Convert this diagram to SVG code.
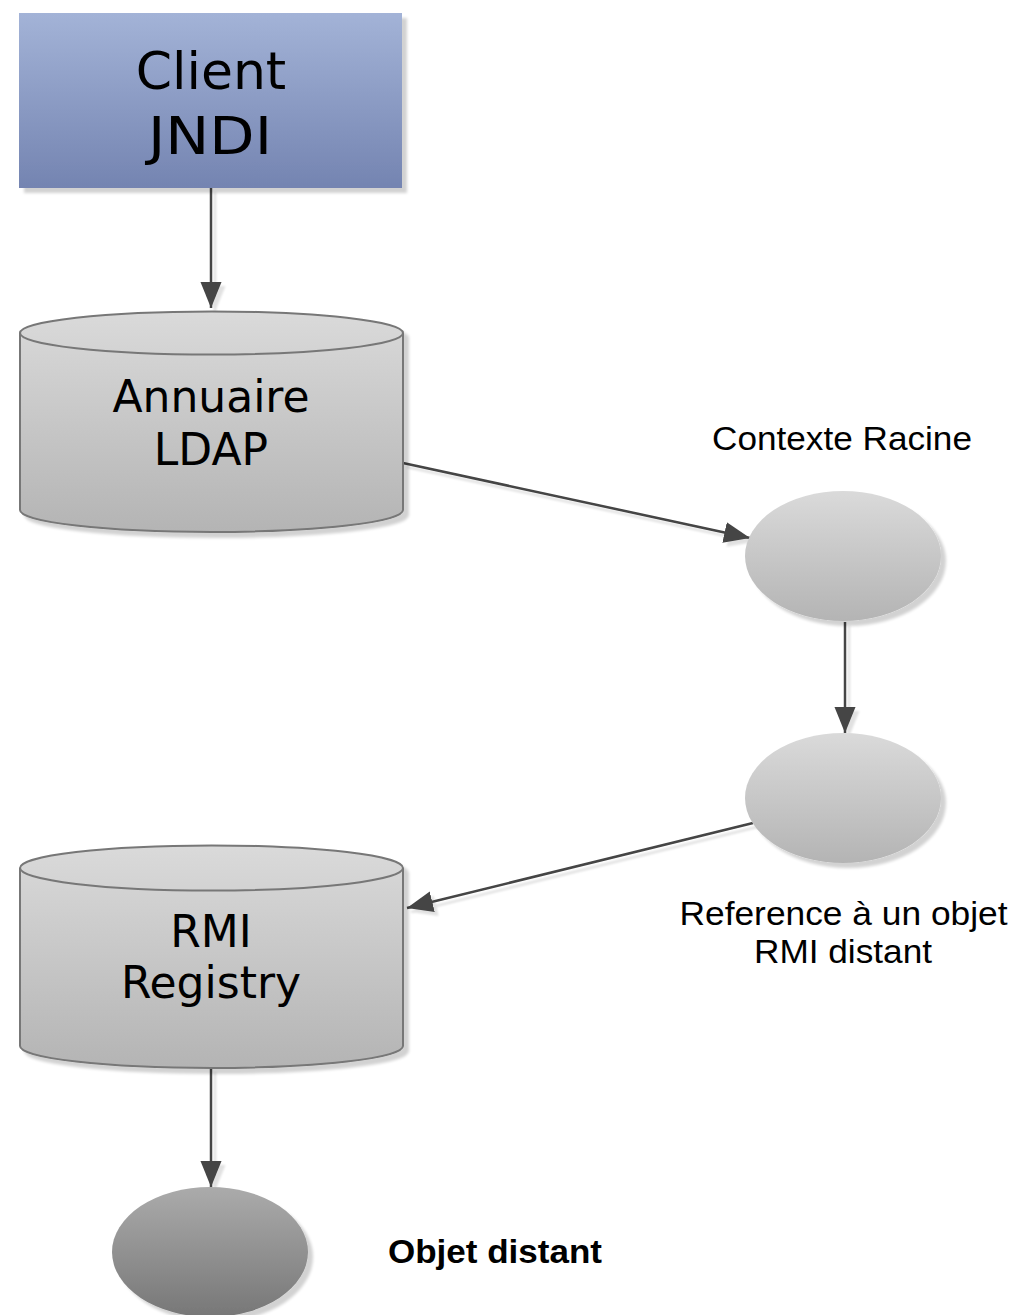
<svg xmlns="http://www.w3.org/2000/svg" width="1014" height="1315" viewBox="0 0 1014 1315">
  <defs>
    <linearGradient id="gBlue" x1="0" y1="0" x2="0" y2="1">
      <stop offset="0" stop-color="#a3b3d7"/>
      <stop offset="1" stop-color="#7484b1"/>
    </linearGradient>
    <linearGradient id="gGrey" x1="0" y1="0" x2="0" y2="1">
      <stop offset="0" stop-color="#dadada"/>
      <stop offset="1" stop-color="#b4b4b4"/>
    </linearGradient>
    <linearGradient id="gDark" x1="0" y1="0" x2="0" y2="1">
      <stop offset="0" stop-color="#ababab"/>
      <stop offset="1" stop-color="#777777"/>
    </linearGradient>
    <filter id="shadow" x="-10%" y="-10%" width="130%" height="130%">
      <feGaussianBlur in="SourceAlpha" stdDeviation="1.5"/>
      <feOffset dx="5" dy="5" result="off"/>
      <feComponentTransfer><feFuncA type="linear" slope="0.18"/></feComponentTransfer>
      <feMerge><feMergeNode/><feMergeNode in="SourceGraphic"/></feMerge>
    </filter>
    <filter id="lineShadow" x="-20%" y="-20%" width="140%" height="140%">
      <feOffset in="SourceAlpha" dx="4" dy="4"/>
      <feGaussianBlur stdDeviation="1"/>
      <feComponentTransfer><feFuncA type="linear" slope="0.12"/></feComponentTransfer>
      <feMerge><feMergeNode/><feMergeNode in="SourceGraphic"/></feMerge>
    </filter>
    <marker id="arrow" markerUnits="userSpaceOnUse" markerWidth="28" markerHeight="22" refX="26" refY="10.5" orient="auto">
      <path d="M0,0 L26,10.5 L0,21 Z" fill="#444444"/>
    </marker>
  </defs>
  <style>
    .conn { stroke: #444444; stroke-width: 2.5; fill: none; marker-end: url(#arrow); }
    .cyl { fill: url(#gGrey); stroke: #777777; stroke-width: 2; }
    .big { font-family: "DejaVu Sans", Verdana, sans-serif; fill: #000; text-anchor: middle; }
    .lbl { font-family: "Liberation Sans", Arial, Helvetica, sans-serif; font-size: 34px; fill: #000; text-anchor: middle; }
  </style>

  <!-- connectors -->
  <g id="connectors" filter="url(#lineShadow)">
    <line class="conn" x1="211" y1="188" x2="211" y2="308"/>
    <line class="conn" x1="403" y1="463" x2="750" y2="538"/>
    <line class="conn" x1="845" y1="622" x2="845" y2="733"/>
    <line class="conn" x1="753" y1="823" x2="407" y2="908"/>
    <line class="conn" x1="211" y1="1068" x2="211" y2="1187"/>
  </g>

  <!-- client box -->
  <g id="client">
    <rect x="19" y="13" width="383" height="175" fill="url(#gBlue)" filter="url(#shadow)"/>
    <text class="big" font-size="52" x="211" y="89">Client</text>
    <text class="big" font-size="52" x="210" y="154" textLength="124" lengthAdjust="spacingAndGlyphs">JNDI</text>
  </g>

  <!-- directory store -->
  <g id="ldap">
    <path class="cyl" filter="url(#shadow)" d="M20,333 A191.5,21.5 0 0 1 403,333 L403,510 A191.5,22 0 0 1 20,510 Z"/>
    <path d="M20,333 A191.5,21.5 0 0 0 403,333" fill="none" stroke="#777777" stroke-width="2"/>
    <text class="big" font-size="44" x="211" y="412">Annuaire</text>
    <text class="big" font-size="44" x="211" y="465">LDAP</text>
  </g>

  <!-- root context -->
  <g id="root-context">
    <ellipse cx="843" cy="556" rx="98" ry="65" fill="url(#gGrey)" filter="url(#shadow)"/>
    <text class="lbl" x="842" y="450" textLength="260" lengthAdjust="spacingAndGlyphs">Contexte Racine</text>
  </g>

  <!-- remote reference -->
  <g id="remote-ref">
    <ellipse cx="843" cy="798" rx="98" ry="65" fill="url(#gGrey)" filter="url(#shadow)"/>
    <text class="lbl" x="843.5" y="925" textLength="328" lengthAdjust="spacingAndGlyphs">Reference à un objet</text>
    <text class="lbl" x="843" y="963" textLength="178" lengthAdjust="spacingAndGlyphs">RMI distant</text>
  </g>

  <!-- RMI registry store -->
  <g id="rmi-registry">
    <path class="cyl" filter="url(#shadow)" d="M20,868 A191.5,22.5 0 0 1 403,868 L403,1046 A191.5,22 0 0 1 20,1046 Z"/>
    <path d="M20,868 A191.5,22.5 0 0 0 403,868" fill="none" stroke="#777777" stroke-width="2"/>
    <text class="big" font-size="44" x="211" y="947">RMI</text>
    <text class="big" font-size="44" x="211" y="998">Registry</text>
  </g>

  <!-- remote object -->
  <g id="remote-object">
    <ellipse cx="210" cy="1252" rx="98" ry="65" fill="url(#gDark)" filter="url(#shadow)"/>
    <text class="lbl" x="388" y="1263" font-weight="bold" style="text-anchor:start" textLength="214" lengthAdjust="spacingAndGlyphs">Objet distant</text>
  </g>
</svg>
